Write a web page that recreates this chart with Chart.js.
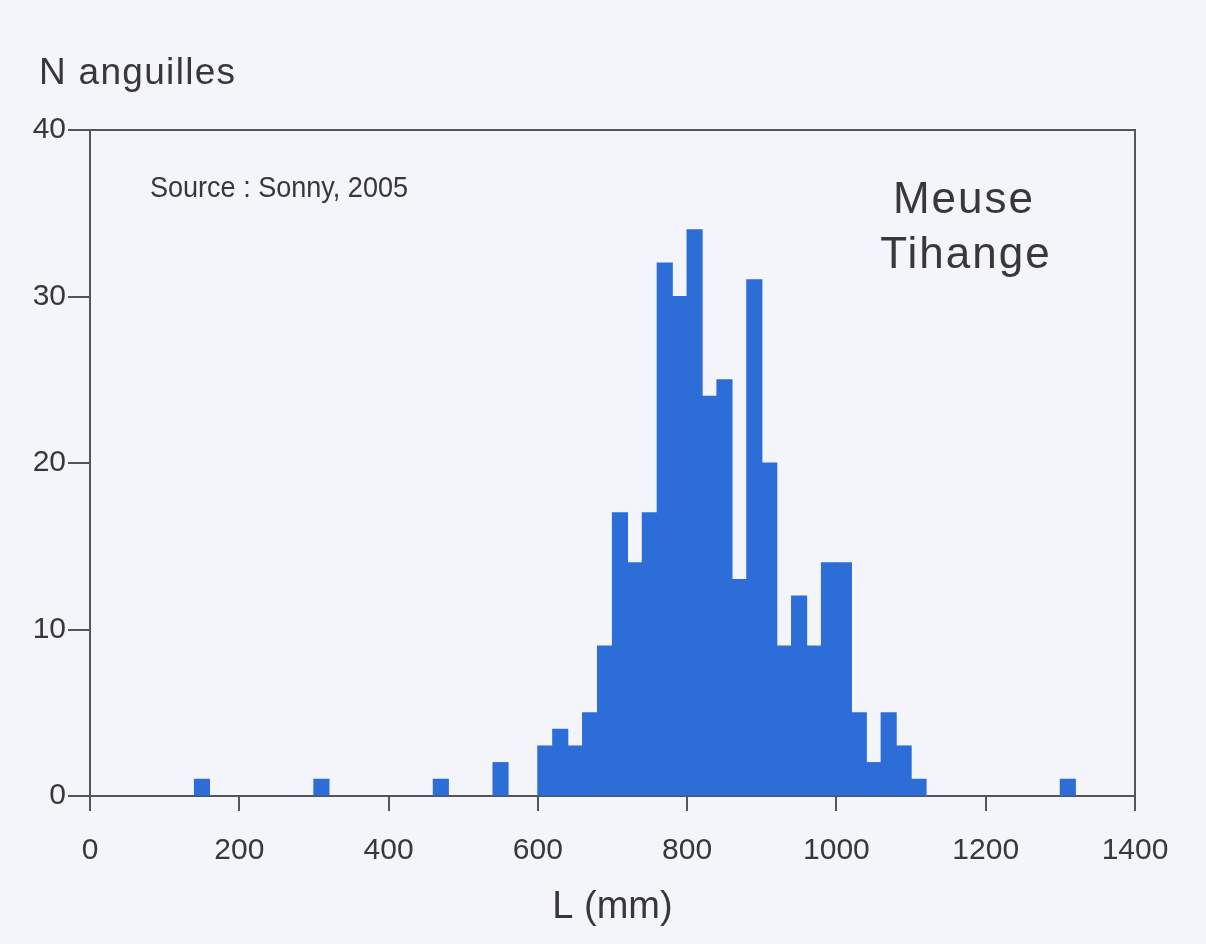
<!DOCTYPE html>
<html><head><meta charset="utf-8">
<script src="https://cdn.jsdelivr.net/npm/chart.js@4/dist/chart.umd.min.js"></script>
<style>
html,body{margin:0;padding:0;background:#f3f5fb;}
#wrap{position:relative;width:1206px;height:944px;}
</style></head><body>
<div id="wrap"><canvas id="c" width="1206" height="944"></canvas></div>
<script>
// ---- data ----
const BIN_WIDTH = 20; // mm
const binLowerEdges = [140, 300, 460, 540, 600, 620, 640, 660, 680, 700, 720, 740, 760, 780, 800, 820, 840, 860, 880, 900, 920, 940, 960, 980, 1000, 1020, 1040, 1060, 1080, 1100, 1300];
const eelCounts     = [1,   1,   1,   2,   3,   4,   3,   5,   9,   17,  14,  17,  32,  30,  34,  24,  25,  13,  31,  20,  9,   12,  9,   14,  14,   5,    2,    5,    3,    1,    1];
const xTickValues = [0, 200, 400, 600, 800, 1000, 1200, 1400];
const yTickValues = [0, 10, 20, 30, 40];
const yAxisLabel = 'N anguilles';
const xAxisLabel = 'L (mm)';
const sourceNote = 'Source : Sonny, 2005';
const siteLabel = ['Meuse', 'Tihange'];

const TEXT = '#383838';
const AXIS = '#555555';
const FONT = "'Liberation Sans', Arial, sans-serif";

const textPlugin = {
  id: 'texts',
  afterDraw(chart) {
    const {ctx, chartArea} = chart;
    ctx.save();
    ctx.fillStyle = TEXT;
    // frame top & right
    ctx.strokeStyle = AXIS;
    ctx.lineWidth = 2;
    ctx.beginPath();
    ctx.moveTo(chartArea.left, chartArea.top);
    ctx.lineTo(chartArea.right, chartArea.top);
    ctx.lineTo(chartArea.right, chartArea.bottom);
    ctx.stroke();
    // y-axis label
    ctx.font = '37px ' + FONT;
    ctx.letterSpacing = '1.3px';
    ctx.textAlign = 'left';
    ctx.textBaseline = 'alphabetic';
    ctx.fillText(yAxisLabel, 39, 84);
    // site label
    ctx.font = '44px ' + FONT;
    ctx.letterSpacing = '2px';
    ctx.textAlign = 'center';
    ctx.fillText(siteLabel[0], 964, 213);
    ctx.fillText(siteLabel[1], 966, 268);
    // source note (condensed)
    ctx.letterSpacing = '0px';
    ctx.font = '30px ' + FONT;
    ctx.textAlign = 'left';
    const w = ctx.measureText(sourceNote).width;
    ctx.translate(150, 197);
    ctx.scale(258 / w, 1);
    ctx.fillText(sourceNote, 0, 0);
    ctx.restore();
  }
};

new Chart(document.getElementById('c'), {
  type: 'bar',
  data: {
    datasets: [{
      data: binLowerEdges.map((lo, i) => ({x: lo + BIN_WIDTH / 2, y: eelCounts[i]})),
      backgroundColor: '#2c6dd8',
      borderWidth: 0,
      inflateAmount: 0.6,
      barPercentage: 1,
      categoryPercentage: 1
    }]
  },
  options: {
    responsive: false,
    animation: false,
    layout: {padding: {left: 0, top: 130, right: 71, bottom: 0}},
    plugins: {legend: {display: false}, tooltip: {enabled: false}},
    scales: {
      x: {
        type: 'linear', min: 0, max: 1400, offset: false,
        afterBuildTicks: s => { s.ticks = xTickValues.map(v => ({value: v})); },
        afterFit: s => { s.height = 148; },
        grid: {display: true, offset: false, drawOnChartArea: false, drawTicks: true, tickLength: 15, color: AXIS, lineWidth: 2},
        border: {display: true, color: AXIS, width: 2},
        ticks: {font: {family: FONT, size: 30}, color: TEXT, padding: 22, maxRotation: 0, autoSkip: false,
                callback: v => String(v)},
        title: {display: true, text: xAxisLabel, font: {family: FONT, size: 38}, color: TEXT, padding: {top: 0, bottom: 14}}
      },
      y: {
        min: 0, max: 40,
        afterBuildTicks: s => { s.ticks = yTickValues.map(v => ({value: v})); },
        afterFit: s => { s.width = 90; },
        grid: {display: true, offset: false, drawOnChartArea: false, drawTicks: true, tickLength: 22, color: AXIS, lineWidth: 2},
        border: {display: true, color: AXIS, width: 2},
        ticks: {font: {family: FONT, size: 30}, color: TEXT, padding: 2, callback: v => String(v)}
      }
    }
  },
  plugins: [textPlugin]
});
</script>
</body></html>
